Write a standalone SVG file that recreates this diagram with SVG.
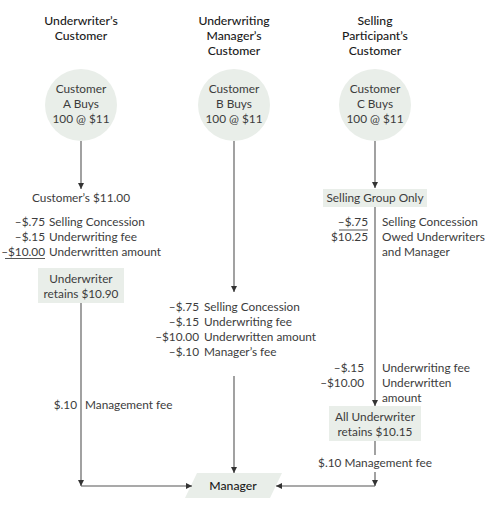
<svg xmlns="http://www.w3.org/2000/svg" width="493" height="512" viewBox="0 0 493 512">
<defs>
<marker id="ah" viewBox="0 0 10 10" refX="10" refY="5" markerWidth="6" markerHeight="6" orient="auto" markerUnits="userSpaceOnUse">
<path d="M0,0 L10,5 L0,10 z" fill="#333"/>
</marker>
<style>
text{font-family:Lato,"Open Sans","Liberation Sans",sans-serif;font-size:11.8px;fill:#3c3c3c}
.h{fill:#1a1a1a;font-size:12.2px;font-weight:500}
.m{text-anchor:middle}
.r{text-anchor:end}
.c{fill:#e9eee9}
.b{fill:#e9eee9}
.ln{stroke:#555;stroke-width:1.1;fill:none}
.ar{stroke:#555;stroke-width:1.1;fill:none;marker-end:url(#ah)}
.ul{stroke:#444;stroke-width:0.9}
</style>
</defs>
<rect width="493" height="512" fill="#fff"/>

<g id="headers">
<text class="h m" x="81" y="25">Underwriter’s</text>
<text class="h m" x="81" y="40">Customer</text>
<text class="h m" x="234" y="25">Underwriting</text>
<text class="h m" x="234" y="40">Manager’s</text>
<text class="h m" x="234" y="55">Customer</text>
<text class="h m" x="375" y="25">Selling</text>
<text class="h m" x="375" y="40">Participant’s</text>
<text class="h m" x="375" y="55">Customer</text>
</g>

<g id="customerA">
<circle class="c" cx="81" cy="105" r="36"/>
<text class="m" x="81" y="93">Customer</text>
<text class="m" x="81" y="108">A Buys</text>
<text class="m" x="81" y="123">100 @ $11</text>
</g>
<g id="customerB">
<circle class="c" cx="234" cy="105" r="36"/>
<text class="m" x="234" y="93">Customer</text>
<text class="m" x="234" y="108">B Buys</text>
<text class="m" x="234" y="123">100 @ $11</text>
</g>
<g id="customerC">
<circle class="c" cx="375" cy="105" r="36"/>
<text class="m" x="375" y="93">Customer</text>
<text class="m" x="375" y="108">C Buys</text>
<text class="m" x="375" y="123">100 @ $11</text>
</g>

<g id="calcA">
<text class="m" x="81" y="202">Customer’s $11.00</text>
<text class="r" x="45" y="226">–$.75</text>
<text x="49" y="226">Selling Concession</text>
<text class="r" x="45" y="241">–$.15</text>
<text x="49" y="241">Underwriting fee</text>
<text class="r" x="45" y="256">–$10.00</text>
<text x="49" y="256">Underwritten amount</text>
<line class="ul" x1="5" y1="258.5" x2="45" y2="258.5"/>
</g>

<g id="retainsA">
<rect class="b" x="38" y="268" width="86" height="35"/>
<text class="m" x="81" y="283">Underwriter</text>
<text class="m" x="81" y="298">retains $10.90</text>
</g>

<g id="calcB">
<text class="r" x="199" y="311">–$.75</text>
<text x="204" y="311">Selling Concession</text>
<text class="r" x="199" y="326">–$.15</text>
<text x="204" y="326">Underwriting fee</text>
<text class="r" x="199" y="341">–$10.00</text>
<text x="204" y="341">Underwritten amount</text>
<text class="r" x="199" y="356">–$.10</text>
<text x="204" y="356">Manager’s fee</text>
</g>

<g id="sellingGroup">
<rect class="b" x="323" y="189" width="104" height="18"/>
<text class="m" x="375" y="202">Selling Group Only</text>
</g>

<g id="calcC">
<text class="r" x="368" y="226">–$.75</text>
<line class="ul" x1="339" y1="230" x2="368" y2="230"/>
<text class="r" x="368" y="241">$10.25</text>
<text x="382" y="226">Selling Concession</text>
<text x="382" y="241">Owed Underwriters</text>
<text x="382" y="256">and Manager</text>
<text class="r" x="364" y="372">–$.15</text>
<text class="r" x="364" y="387">–$10.00</text>
<text x="382" y="372">Underwriting fee</text>
<text x="382" y="387">Underwritten</text>
<text x="382" y="402">amount</text>
</g>

<g id="retainsC">
<rect class="b" x="329" y="406" width="92" height="35"/>
<text class="m" x="375" y="421">All Underwriter</text>
<text class="m" x="375" y="436">retains $10.15</text>
</g>

<g id="feeLabels">
<text class="r" x="77" y="409">$.10</text>
<text x="85" y="409">Management fee</text>
<text class="m" x="375" y="467">$.10 Management fee</text>
</g>

<g id="manager">
<polygon class="b" points="197,473 282,473 270,498 185,498"/>
<text class="m h" x="233" y="490">Manager</text>
</g>

<g id="connectors">
<line class="ar" x1="81" y1="141" x2="81" y2="189"/>
<line class="ln" x1="81" y1="303" x2="81" y2="480"/>
<line class="ar" x1="81" y1="480" x2="81" y2="486"/>
<line class="ar" x1="81" y1="486" x2="192" y2="486"/>
<line class="ar" x1="234" y1="141" x2="234" y2="292"/>
<line class="ar" x1="234" y1="376" x2="234" y2="473"/>
<line class="ar" x1="375" y1="141" x2="375" y2="188"/>
<line class="ar" x1="375" y1="207" x2="375" y2="406"/>
<line class="ln" x1="375" y1="441" x2="375" y2="455"/>
<line class="ar" x1="375" y1="472" x2="375" y2="486"/>
<line class="ar" x1="375" y1="486" x2="276" y2="486"/>
</g>
</svg>
